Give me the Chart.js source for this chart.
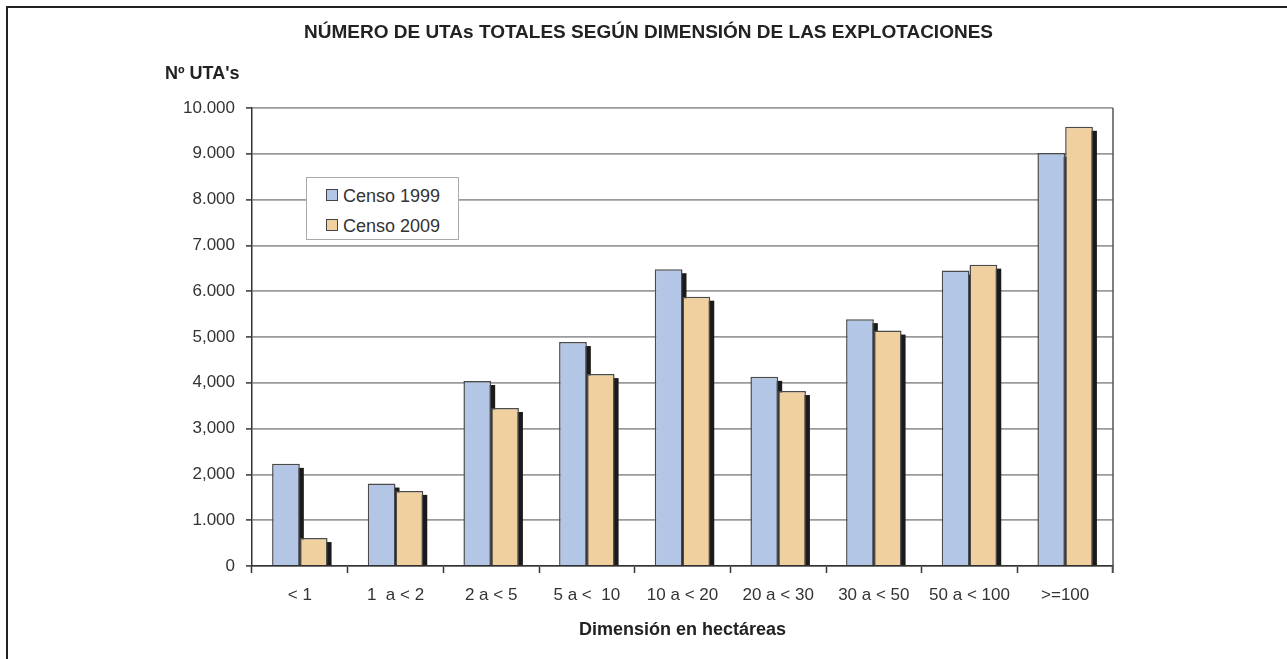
<!DOCTYPE html>
<html lang="es">
<head>
    <meta charset="UTF-8">
    <title>Número de UTAs totales según dimensión de las explotaciones</title>
    <script src="https://cdn.jsdelivr.net/npm/chart.js"></script>
    <style>
        body {
            margin: 0;
            background-color: #fff;
            font-family: "Liberation Sans", Arial, sans-serif;
        }
        .wrap {
            position: relative;
            width: 1287px;
            height: 659px;
            overflow: hidden;
        }
        .frame {
            position: absolute;
            left: 6px;
            top: 6px;
            width: 1300px;
            height: 700px;
            border-left: 2px solid #222;
            border-top: 2px solid #222;
        }
        canvas {
            position: absolute;
            left: 0;
            top: 0;
        }
        .title {
            position: absolute;
            left: 0;
            top: 21px;
            width: 1297px;
            text-align: center;
            font-weight: bold;
            font-size: 19px;
            color: #222;
        }
        .y-title {
            position: absolute;
            left: 165px;
            top: 63px;
            font-weight: bold;
            font-size: 18px;
            color: #222;
        }
        .legend {
            position: absolute;
            left: 306px;
            top: 177px;
            width: 151px;
            height: 61px;
            border: 1px solid #aaa;
            background: #fff;
        }
        .legend .item {
            position: absolute;
            left: 19px;
            font-size: 18px;
            color: #333;
            line-height: 20px;
            white-space: nowrap;
        }
        .legend .swatch {
            display: inline-block;
            width: 10px;
            height: 10px;
            border: 1px solid #444;
            margin-right: 5px;
            vertical-align: 1px;
        }
    </style>
</head>
<body>
    <div class="wrap">
        <div class="frame"></div>
        <canvas id="utaChart" width="1287" height="659"></canvas>
        <div class="title">NÚMERO DE UTAs TOTALES SEGÚN DIMENSIÓN DE LAS EXPLOTACIONES</div>
        <div class="y-title">Nº UTA's</div>
        <div class="legend" id="legend"></div>
    </div>

    <script>
        // Data
        const categories = ['< 1', '1  a < 2', '2 a < 5', '5 a <  10', '10 a < 20', '20 a < 30', '30 a < 50', '50 a < 100', '>=100'];
        const seriesNames = ['Censo 1999', 'Censo 2009'];
        const censo1999 = [2230, 1800, 4040, 4890, 6480, 4130, 5390, 6450, 9020];
        const censo2009 = [610, 1640, 3450, 4190, 5880, 3820, 5140, 6580, 9590];
        const yTickLabels = ['0', '1.000', '2,000', '3,000', '4,000', '5,000', '6.000', '7.000', '8.000', '9.000', '10.000'];

        const seriesColors = ['#b3c6e5', '#f0d09f'];

        // black drop shadow to the right of every bar
        const barShadow = {
            id: 'barShadow',
            beforeDatasetsDraw(chart) {
                const ctx = chart.ctx;
                ctx.save();
                ctx.fillStyle = '#1a1a1a';
                chart.data.datasets.forEach((ds, i) => {
                    chart.getDatasetMeta(i).data.forEach(bar => {
                        const left = bar.x - bar.width / 2 + 4;
                        const top = bar.y + 4;
                        ctx.fillRect(left, top, bar.width, bar.base - top);
                    });
                });
                ctx.restore();
            }
        };

        // right edge of plot area
        const rightEdge = {
            id: 'rightEdge',
            afterDraw(chart) {
                const a = chart.chartArea;
                const ctx = chart.ctx;
                ctx.save();
                ctx.strokeStyle = '#555';
                ctx.lineWidth = 1.5;
                ctx.beginPath();
                ctx.moveTo(a.right, a.top);
                ctx.lineTo(a.right, a.bottom + 7);
                ctx.stroke();
                ctx.restore();
            }
        };

        const chart = new Chart(document.getElementById('utaChart'), {
            type: 'bar',
            data: {
                labels: categories,
                datasets: [
                    {
                        label: seriesNames[0],
                        data: censo1999,
                        backgroundColor: seriesColors[0],
                        borderColor: '#4a4a4a',
                        borderWidth: 1.5
                    },
                    {
                        label: seriesNames[1],
                        data: censo2009,
                        backgroundColor: seriesColors[1],
                        borderColor: '#4a4a4a',
                        borderWidth: 1.5
                    }
                ]
            },
            options: {
                responsive: false,
                animation: false,
                devicePixelRatio: 1,
                categoryPercentage: 0.58,
                barPercentage: 1.0,
                layout: {
                    padding: { left: 0, right: 174, bottom: 0, top: 108 }
                },
                plugins: {
                    legend: { display: false },
                    tooltip: { enabled: false },
                    title: { display: false }
                },
                scales: {
                    x: {
                        afterFit(scale) { scale.height = 93; },
                        grid: {
                            display: true,
                            offset: true,
                            drawOnChartArea: false,
                            tickLength: 7,
                            tickColor: '#333',
                            tickWidth: 1.5
                        },
                        border: { color: '#333', width: 1.5 },
                        ticks: {
                            color: '#333',
                            padding: 12,
                            font: { family: 'Liberation Sans', size: 17 }
                        },
                        title: {
                            display: true,
                            text: 'Dimensión en hectáreas',
                            color: '#222',
                            font: { family: 'Liberation Sans', size: 18, weight: 'bold' },
                            padding: { top: 0, bottom: 18 }
                        }
                    },
                    y: {
                        min: 0,
                        max: 10000,
                        afterFit(scale) { scale.width = 252; },
                        grid: {
                            color: '#9a9a9a',
                            lineWidth: 1.8,
                            tickLength: 6,
                            tickColor: '#333',
                            tickWidth: 1.5
                        },
                        border: { color: '#333', width: 1.5 },
                        ticks: {
                            stepSize: 1000,
                            color: '#333',
                            padding: 11,
                            font: { family: 'Liberation Sans', size: 17 },
                            callback: (value) => yTickLabels[Math.round(value / 1000)]
                        }
                    }
                }
            },
            plugins: [barShadow, rightEdge]
        });

        // Legend box inside the plot
        const legend = document.getElementById('legend');
        seriesNames.forEach((name, i) => {
            const item = document.createElement('div');
            item.className = 'item';
            item.style.top = (8 + i * 30) + 'px';
            item.innerHTML = `<span class="swatch" style="background:${seriesColors[i]}"></span>${name}`;
            legend.appendChild(item);
        });
    </script>
</body>
</html>
